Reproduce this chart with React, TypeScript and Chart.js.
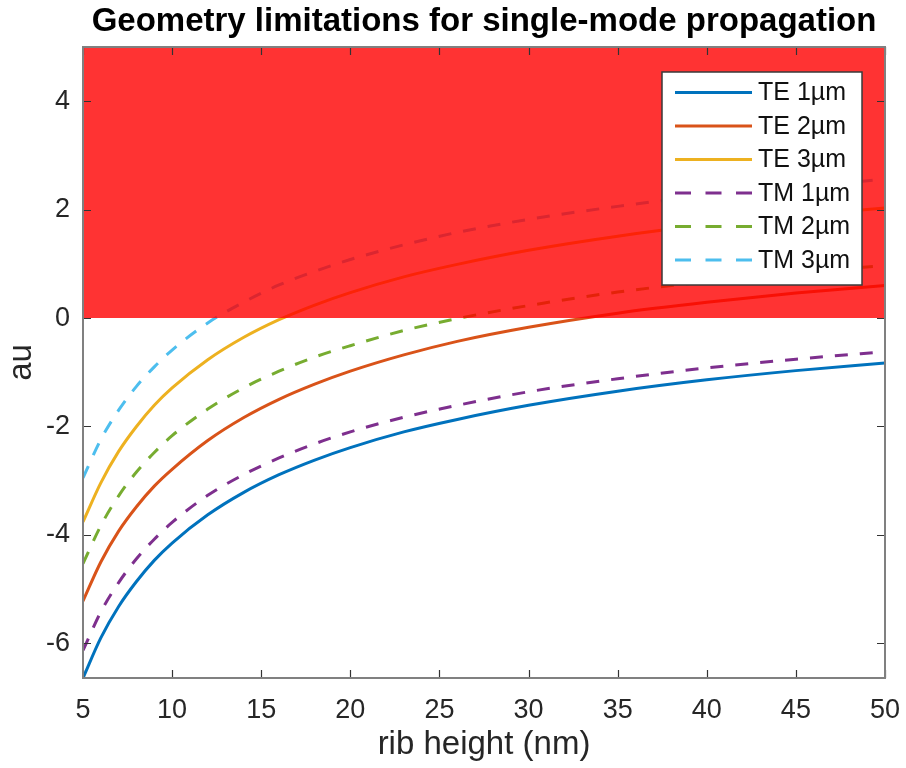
import React, { useEffect, useRef } from "react";
import { Chart, registerables } from "chart.js";

Chart.register(...registerables);

// ---- data ----
const ribHeight = [5, 6, 7, 8, 9, 10, 12, 14, 16, 18, 20, 23, 26, 30, 35, 40, 45, 50];

const te1um = [-6.64, -5.9, -5.32, -4.86, -4.47, -4.15, -3.63, -3.22, -2.89, -2.62, -2.39, -2.1, -1.87, -1.61, -1.35, -1.14, -0.97, -0.83];
const te2um = [-5.22, -4.5, -3.93, -3.48, -3.1, -2.79, -2.26, -1.84, -1.5, -1.22, -0.98, -0.68, -0.43, -0.17, 0.09, 0.29, 0.46, 0.6];
const te3um = [-3.76, -3.04, -2.46, -2.0, -1.61, -1.29, -0.77, -0.36, -0.03, 0.24, 0.47, 0.76, 0.99, 1.25, 1.51, 1.72, 1.89, 2.03];
const tm1um = [-6.13, -5.42, -4.88, -4.44, -4.08, -3.77, -3.27, -2.89, -2.58, -2.32, -2.1, -1.83, -1.61, -1.36, -1.12, -0.92, -0.76, -0.62];
const tm2um = [-4.53, -3.83, -3.28, -2.84, -2.48, -2.17, -1.68, -1.29, -0.98, -0.72, -0.51, -0.23, -0.01, 0.23, 0.48, 0.67, 0.84, 0.97];
const tm3um = [-2.95, -2.24, -1.7, -1.26, -0.9, -0.59, -0.09, 0.29, 0.61, 0.86, 1.08, 1.35, 1.58, 1.82, 2.06, 2.26, 2.42, 2.56];

const seriesLabels = ["TE 1µm", "TE 2µm", "TE 3µm", "TM 1µm", "TM 2µm", "TM 3µm"];
const seriesColors = ["#0072BD", "#D95319", "#EDB120", "#7E2F8E", "#77AC30", "#4DBEEE"];
const seriesDashed = [false, false, false, true, true, true];

// forbidden (multi-mode) region: from au = 0 up to the top of the axis
const regionX = [5, 50];
const regionTop = [5, 5];
const regionBottom = 0;

const xTicks = [5, 10, 15, 20, 25, 30, 35, 40, 45, 50];
const yTicks = [-6, -4, -2, 0, 2, 4];
const xRange = [5, 50];
const yRange = [-6.64, 5];

const titleText = "Geometry limitations for single-mode propagation";
const xTitle = "rib height (nm)";
const yTitle = "au";

const FONT = "'Liberation Sans', Arial, Helvetica, sans-serif";
const AXIS_COLOR = "#262626";

const allSeries = [te1um, te2um, te3um, tm1um, tm2um, tm3um];

const boxAndTicks = {
  id: "boxAndTicks",
  afterDatasetsDraw(chart: any) {
    const { ctx, chartArea } = chart;
    const { left, right, top, bottom } = chartArea;
    const xs = chart.scales.x;
    const ys = chart.scales.y;
    const tl = 8;
    ctx.save();
    ctx.strokeStyle = "#333333";
    ctx.lineWidth = 1.2;
    ctx.beginPath();
    xTicks.forEach((v) => {
      const px = Math.round(xs.getPixelForValue(v)) + 0.5;
      ctx.moveTo(px, bottom);
      ctx.lineTo(px, bottom - tl);
      ctx.moveTo(px, top);
      ctx.lineTo(px, top + tl);
    });
    yTicks.forEach((v) => {
      const py = Math.round(ys.getPixelForValue(v)) + 0.5;
      ctx.moveTo(left, py);
      ctx.lineTo(left + tl, py);
      ctx.moveTo(right, py);
      ctx.lineTo(right - tl, py);
    });
    ctx.stroke();
    ctx.strokeStyle = "#808080";
    ctx.lineWidth = 2;
    ctx.strokeRect(left, top, right - left, bottom - top);
    ctx.restore();
  },
};

const titleAndLegend = {
  id: "titleAndLegend",
  afterDraw(chart: any) {
    const { ctx, chartArea } = chart;
    ctx.save();
    // title, centred over the axes
    ctx.font = `bold 33px ${FONT}`;
    ctx.fillStyle = "#000000";
    ctx.textAlign = "center";
    ctx.textBaseline = "alphabetic";
    ctx.fillText(titleText, (chartArea.left + chartArea.right) / 2, 31);

    // legend inside the axes
    const items = chart.data.datasets.filter((d: any) => d.label);
    const bx = 662;
    const by = 72;
    const bw = 200;
    const bh = 213;
    ctx.fillStyle = "#ffffff";
    ctx.fillRect(bx, by, bw, bh);
    ctx.strokeStyle = "#3a3a3a";
    ctx.lineWidth = 1.5;
    ctx.strokeRect(bx, by, bw, bh);
    ctx.font = `25px ${FONT}`;
    ctx.textBaseline = "middle";
    ctx.textAlign = "left";
    items.forEach((d: any, i: number) => {
      const cy = 92.5 + i * 33.5;
      ctx.strokeStyle = d.borderColor;
      ctx.lineWidth = 3;
      ctx.setLineDash(d.borderDash && d.borderDash.length ? [16, 14.5] : []);
      ctx.beginPath();
      ctx.moveTo(675, cy);
      ctx.lineTo(752, cy);
      ctx.stroke();
      ctx.setLineDash([]);
      ctx.fillStyle = "#111111";
      ctx.fillText(d.label, 758, cy + 1);
    });
    ctx.restore();
  },
};

export default function App() {
  const canvasRef = useRef<HTMLCanvasElement | null>(null);

  useEffect(() => {
    if (!canvasRef.current) return;

    const lineSets = allSeries.map((vals, i) => ({
      label: seriesLabels[i],
      data: ribHeight.map((x, j) => ({ x, y: vals[j] })),
      borderColor: seriesColors[i],
      backgroundColor: seriesColors[i],
      borderWidth: 3,
      borderDash: seriesDashed[i] ? [13, 12] : [],
      pointRadius: 0,
      cubicInterpolationMode: "monotone" as const,
      fill: false,
      order: 1,
    }));

    const region = {
      label: "",
      data: regionX.map((x, j) => ({ x, y: regionTop[j] })),
      borderWidth: 0,
      borderColor: "rgba(0,0,0,0)",
      backgroundColor: "rgba(255,0,0,0.8)",
      pointRadius: 0,
      fill: { value: regionBottom },
      order: 0,
    };

    const chart = new Chart(canvasRef.current, {
      type: "line",
      data: { datasets: [...lineSets, region] as any },
      options: {
        animation: false,
        responsive: false,
        layout: { padding: { left: 0, right: 21, top: 47, bottom: 0 } },
        plugins: {
          legend: { display: false },
          tooltip: { enabled: false },
          title: { display: false },
        },
        scales: {
          x: {
            type: "linear",
            min: xRange[0],
            max: xRange[1],
            grid: { display: false, drawTicks: false },
            border: { display: false },
            afterBuildTicks: (s: any) => {
              s.ticks = xTicks.map((v) => ({ value: v }));
            },
            ticks: {
              color: AXIS_COLOR,
              font: { family: FONT, size: 27 },
              padding: 16,
              maxRotation: 0,
              autoSkip: false,
            },
            title: {
              display: true,
              text: xTitle,
              color: AXIS_COLOR,
              font: { family: FONT, size: 33 },
              padding: { top: 0, bottom: 3 },
            },
            afterFit: (s: any) => {
              s.height = 90;
              s.paddingLeft = 0;
              s.paddingRight = 0;
            },
          },
          y: {
            type: "linear",
            min: yRange[0],
            max: yRange[1],
            grid: { display: false, drawTicks: false },
            border: { display: false },
            afterBuildTicks: (s: any) => {
              s.ticks = yTicks.map((v) => ({ value: v }));
            },
            ticks: {
              color: AXIS_COLOR,
              font: { family: FONT, size: 27 },
              padding: 13,
              autoSkip: false,
            },
            title: {
              display: true,
              text: yTitle,
              color: AXIS_COLOR,
              font: { family: FONT, size: 33 },
              padding: { top: 2, bottom: 0 },
            },
            afterFit: (s: any) => {
              s.width = 83;
              s.paddingTop = 0;
              s.paddingBottom = 0;
            },
          },
        },
      } as any,
      plugins: [boxAndTicks, titleAndLegend],
    });

    return () => chart.destroy();
  }, []);

  return (
    <div style={{ position: "fixed", left: 0, top: 0, width: 906, height: 768, background: "#ffffff" }}>
      <canvas ref={canvasRef} width={906} height={768} style={{ display: "block" }} />
    </div>
  );
}
